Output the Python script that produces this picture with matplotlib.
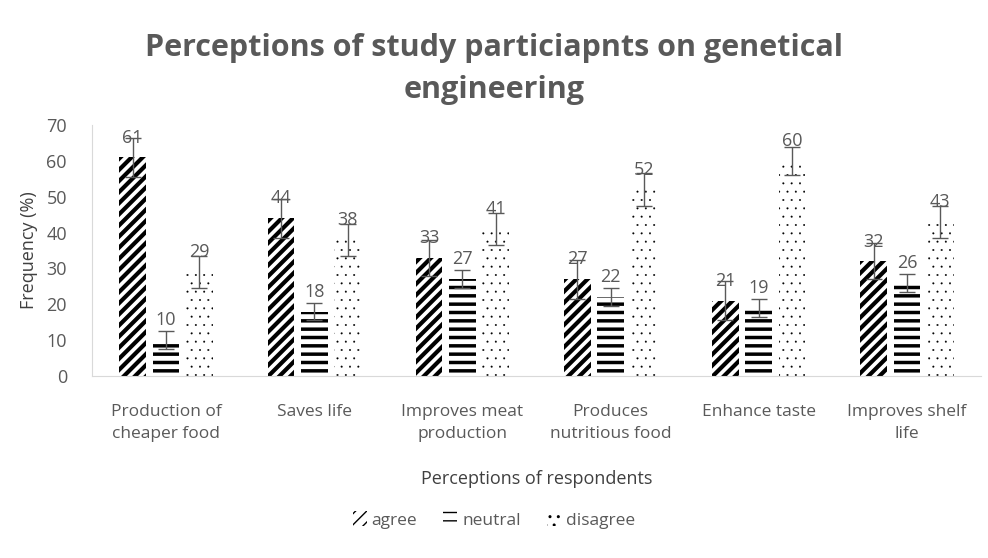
import matplotlib.pyplot as plt
import numpy as np

plt.rcParams['font.family'] = ['Open Sans', 'DejaVu Sans']

categories = ['Production of\ncheaper food', 'Saves life', 'Improves meat\nproduction',
              'Produces\nnutritious food', 'Enhance taste', 'Improves shelf\nlife']
agree = [61, 44, 33, 27, 21, 32]
neutral = [10, 18, 27, 22, 19, 26]
disagree = [29, 38, 41, 52, 60, 43]
agree_err = [5.5, 5.5, 5, 5.5, 5.5, 5]
neutral_err = [2.5, 2.5, 2.5, 2.5, 2.5, 2.5]
disagree_err = [4.5, 4.5, 4.5, 4.5, 4, 4.5]

grey = '#595959'
fig = plt.figure(figsize=(9.88, 5.58), dpi=100)
ax = fig.add_axes([0.093, 0.326, 0.9, 0.45])

x = np.arange(len(categories))
w = 0.18
gap = 0.045
series = [(agree, agree_err, '///', 'agree', 3.0),
          (neutral, neutral_err, '--', 'neutral', 2.5),
          (disagree, disagree_err, '..', 'disagree', 0.2)]
for i, (vals, errs, h, lab, hlw) in enumerate(series):
    pos = x + (i - 1) * (w + gap)
    with plt.rc_context({'hatch.linewidth': hlw}):
        bars = ax.bar(pos, vals, w, color='white', edgecolor='black', linewidth=0, hatch=h, label=lab)
    for b in bars:
        if hasattr(b, 'set_hatch_linewidth'):
            b.set_hatch_linewidth(hlw)
    ax.errorbar(pos, vals, yerr=errs, fmt='none', ecolor=grey, elinewidth=1, capsize=6, capthick=1)
    for p, v in zip(pos, vals):
        ax.text(p, v + 3.0, str(v), ha='center', va='bottom', color=grey, fontsize=13)

ax.set_ylim(0, 70)
ax.set_xlim(-0.5, len(categories) - 0.5)
ax.set_yticks(range(0, 71, 10))
ax.set_xticks(x)
ax.set_xticklabels(categories, fontsize=12.5, color=grey, linespacing=1.5)
ax.tick_params(axis='y', labelsize=13, labelcolor=grey, length=0, pad=18)
ax.tick_params(axis='x', length=0, pad=20)
for s in ['top', 'right']:
    ax.spines[s].set_visible(False)
ax.spines['left'].set_color('#d9d9d9')
ax.spines['bottom'].set_color('#d9d9d9')
ax.set_ylabel('Frequency (%)', fontsize=13, color='#404040', labelpad=6)
ax.set_xlabel('Perceptions of respondents', fontsize=13, color='#404040', labelpad=20)

fig.suptitle('Perceptions of study particiapnts on genetical\nengineering', fontsize=22,
             fontweight='bold', color=grey, y=0.94, linespacing=1.5)
fig.legend(loc='center', bbox_to_anchor=(0.5, 0.068), ncol=3, frameon=False,
           fontsize=12.5, labelcolor=grey, handlelength=0.8, handleheight=0.9,
           columnspacing=1.5, handletextpad=0.3)

fig.savefig('out.png', dpi=100)
